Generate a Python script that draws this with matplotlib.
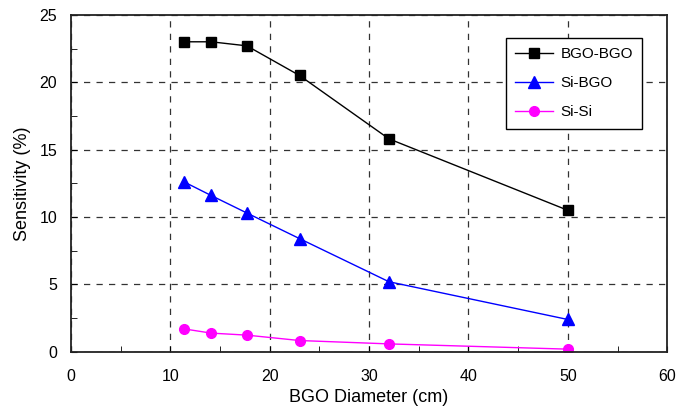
import numpy as np
import matplotlib.pyplot as plt

plt.rcParams['font.family'] = ['Liberation Sans', 'DejaVu Sans']

# diametros del BGO (cm)
diameter = [11.4, 14.1, 17.7, 23.0, 32.0, 50.0]
bgo_bgo = [23.0, 23.0, 22.7, 20.5, 15.8, 10.5]
si_bgo = [12.6, 11.6, 10.3, 8.4, 5.2, 2.4]
si_si = [1.7, 1.39, 1.24, 0.84, 0.59, 0.2]

fig = plt.figure(figsize=(6.76, 4.12), dpi=100)
ax = fig.add_axes([0.105, 0.146, 0.882, 0.818])

ax.plot(diameter, bgo_bgo, color='black', lw=1, marker='s', ms=7, label='BGO-BGO')
ax.plot(diameter, si_bgo, color='blue', lw=1, marker='^', ms=8, label='Si-BGO')
ax.plot(diameter, si_si, color='magenta', lw=1, marker='o', ms=7, label='Si-Si')

ax.set_xlim(0, 60)
ax.set_ylim(0, 25)
ax.set_xticks(np.arange(0, 61, 10))
ax.set_yticks(np.arange(0, 26, 5))
ax.set_xticks(np.arange(0, 61, 5), minor=True)
ax.set_yticks(np.arange(0, 26, 2.5), minor=True)
ax.tick_params(which='both', direction='in', labelsize=11.5, length=4)
ax.tick_params(axis='x', pad=12)
ax.tick_params(axis='y', pad=10)
ax.grid(True, which='major', linestyle=(0, (5, 5)), color='#333333', lw=0.9)
for s in ax.spines.values():
    s.set_linewidth(1.3)
    s.set_color('#222222')

ax.set_xlabel('BGO Diameter (cm)', fontsize=13, labelpad=4)
ax.set_ylabel('Sensitivity (%)', fontsize=13, labelpad=6)

leg = ax.legend(loc='upper right', bbox_to_anchor=(0.958, 0.932), fancybox=False,
                edgecolor='black', framealpha=1, fontsize=11, borderpad=0.6,
                labelspacing=1.0, handlelength=2.5, handletextpad=0.5,
                borderaxespad=0)
leg.get_frame().set_linewidth(1)

plt.savefig('out.png', dpi=100)
